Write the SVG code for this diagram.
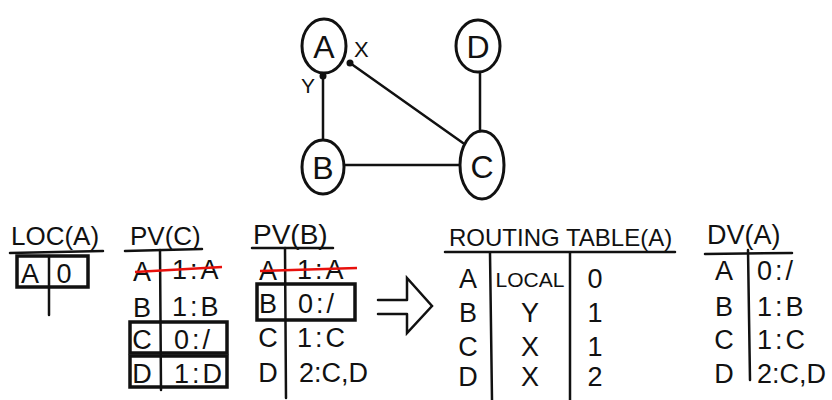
<svg xmlns="http://www.w3.org/2000/svg" width="832" height="400" viewBox="0 0 832 400">
<style>
.t{font-family:"Liberation Sans",Arial,sans-serif;fill:#111;font-size:27px}
.c{text-anchor:middle}
.v{letter-spacing:3px}
.n{font-size:32px;text-anchor:middle}
.ln{stroke:#111;stroke-width:2.5;fill:none;stroke-linecap:round}
.bx{stroke:#111;stroke-width:3.5;fill:none}
.nd{stroke:#111;stroke-width:3;fill:#fff}
.red{stroke:#e8100c;stroke-width:2.5;fill:none}
</style>
<rect width="832" height="400" fill="#fff"/>
<g id="connectors">
  <line class="ln" x1="323" y1="76" x2="323" y2="140"/>
  <circle cx="323" cy="76" r="3.5" fill="#111"/>
  <line class="ln" x1="350" y1="63" x2="463" y2="143"/>
  <circle cx="350" cy="63" r="3.5" fill="#111"/>
  <line class="ln" x1="345" y1="165" x2="461" y2="165"/>
  <line class="ln" x1="480" y1="72" x2="480" y2="130"/>
  <text class="t" x="354" y="57" style="font-size:22px">X</text>
  <text class="t" x="301" y="93" style="font-size:21px">Y</text>
</g>
<g id="node-A">
  <ellipse class="nd" cx="324" cy="46" rx="22" ry="27"/>
  <text class="t n" x="324" y="58">A</text>
</g>
<g id="node-D">
  <ellipse class="nd" cx="478" cy="46" rx="22" ry="26"/>
  <text class="t n" x="478" y="58">D</text>
</g>
<g id="node-B">
  <ellipse class="nd" cx="323" cy="167" rx="21" ry="27"/>
  <text class="t n" x="323" y="179">B</text>
</g>
<g id="node-C">
  <ellipse class="nd" cx="482" cy="165" rx="22" ry="34"/>
  <text class="t n" x="482" y="178">C</text>
</g>
<g id="loc-a">
  <text class="t" x="11" y="245" style="font-size:26px">LOC(A)</text>
  <line class="ln" x1="10" y1="253" x2="103" y2="251"/>
  <rect class="bx" x="17" y="256" width="71" height="31"/>
  <line class="ln" x1="49" y1="256" x2="49" y2="315"/>
  <text class="t c" x="30" y="283">A</text>
  <text class="t c" x="64" y="283">0</text>
</g>
<g id="pv-c">
  <text class="t" x="130" y="245" style="font-size:26px">PV(C)</text>
  <line class="ln" x1="125" y1="251" x2="202" y2="249"/>
  <line class="ln" x1="160" y1="250" x2="161" y2="390"/>
  <text class="t c" x="142" y="281">A</text>
  <text class="t v" x="172" y="279">1:A</text>
  <line class="red" x1="135" y1="272" x2="222" y2="267"/>
  <text class="t c" x="142" y="317">B</text>
  <text class="t v" x="172" y="316">1:B</text>
  <rect class="bx" x="130" y="322" width="97" height="31"/>
  <text class="t c" x="142" y="349">C</text>
  <text class="t v" x="174" y="349">0:/</text>
  <rect class="bx" x="130" y="356" width="97" height="31"/>
  <text class="t c" x="142" y="383">D</text>
  <text class="t v" x="174" y="383">1:D</text>
</g>
<g id="pv-b">
  <text class="t" x="253" y="244" style="font-size:28px">PV(B)</text>
  <line class="ln" x1="252" y1="248" x2="333" y2="248"/>
  <line class="ln" x1="285" y1="248" x2="286" y2="398"/>
  <text class="t c" x="268" y="280">A</text>
  <text class="t v" x="297" y="279">1:A</text>
  <line class="red" x1="260" y1="271" x2="357" y2="268"/>
  <rect class="bx" x="257" y="284" width="98" height="36"/>
  <text class="t c" x="268" y="313">B</text>
  <text class="t v" x="298" y="313">0:/</text>
  <text class="t c" x="268" y="347">C</text>
  <text class="t v" x="297" y="347">1:C</text>
  <text class="t c" x="268" y="382">D</text>
  <text class="t" x="299" y="382">2:C,D</text>
</g>
<g id="arrow">
  <path class="ln" d="M378 300 H407 M378 314 H407 M407 314 L407 333 L432 306 L407 278 L407 300"/>
</g>
<g id="routing-table">
  <text class="t" x="449" y="246" style="font-size:24px">ROUTING TABLE(A)</text>
  <line class="ln" x1="445" y1="252" x2="675" y2="252"/>
  <line class="ln" x1="490" y1="253" x2="492" y2="400"/>
  <line class="ln" x1="570" y1="253" x2="570" y2="400"/>
  <text class="t c" x="468" y="288">A</text>
  <text class="t c" x="530" y="287" style="font-size:21px">LOCAL</text>
  <text class="t c" x="595" y="288">0</text>
  <text class="t c" x="468" y="322">B</text>
  <text class="t c" x="530" y="322">Y</text>
  <text class="t c" x="595" y="322">1</text>
  <text class="t c" x="468" y="356">C</text>
  <text class="t c" x="530" y="356">X</text>
  <text class="t c" x="595" y="356">1</text>
  <text class="t c" x="468" y="386">D</text>
  <text class="t c" x="530" y="386">X</text>
  <text class="t c" x="595" y="386">2</text>
</g>
<g id="dv-a">
  <text class="t" x="707" y="244" style="font-size:27px">DV(A)</text>
  <line class="ln" x1="705" y1="254" x2="792" y2="253"/>
  <line class="ln" x1="748" y1="250" x2="750" y2="380"/>
  <text class="t c" x="724" y="280">A</text>
  <text class="t v" x="757" y="280">0:/</text>
  <text class="t c" x="724" y="316">B</text>
  <text class="t v" x="757" y="316">1:B</text>
  <text class="t c" x="724" y="349">C</text>
  <text class="t v" x="757" y="349">1:C</text>
  <text class="t c" x="724" y="383">D</text>
  <text class="t" x="757" y="383">2:C,D</text>
</g>
</svg>
